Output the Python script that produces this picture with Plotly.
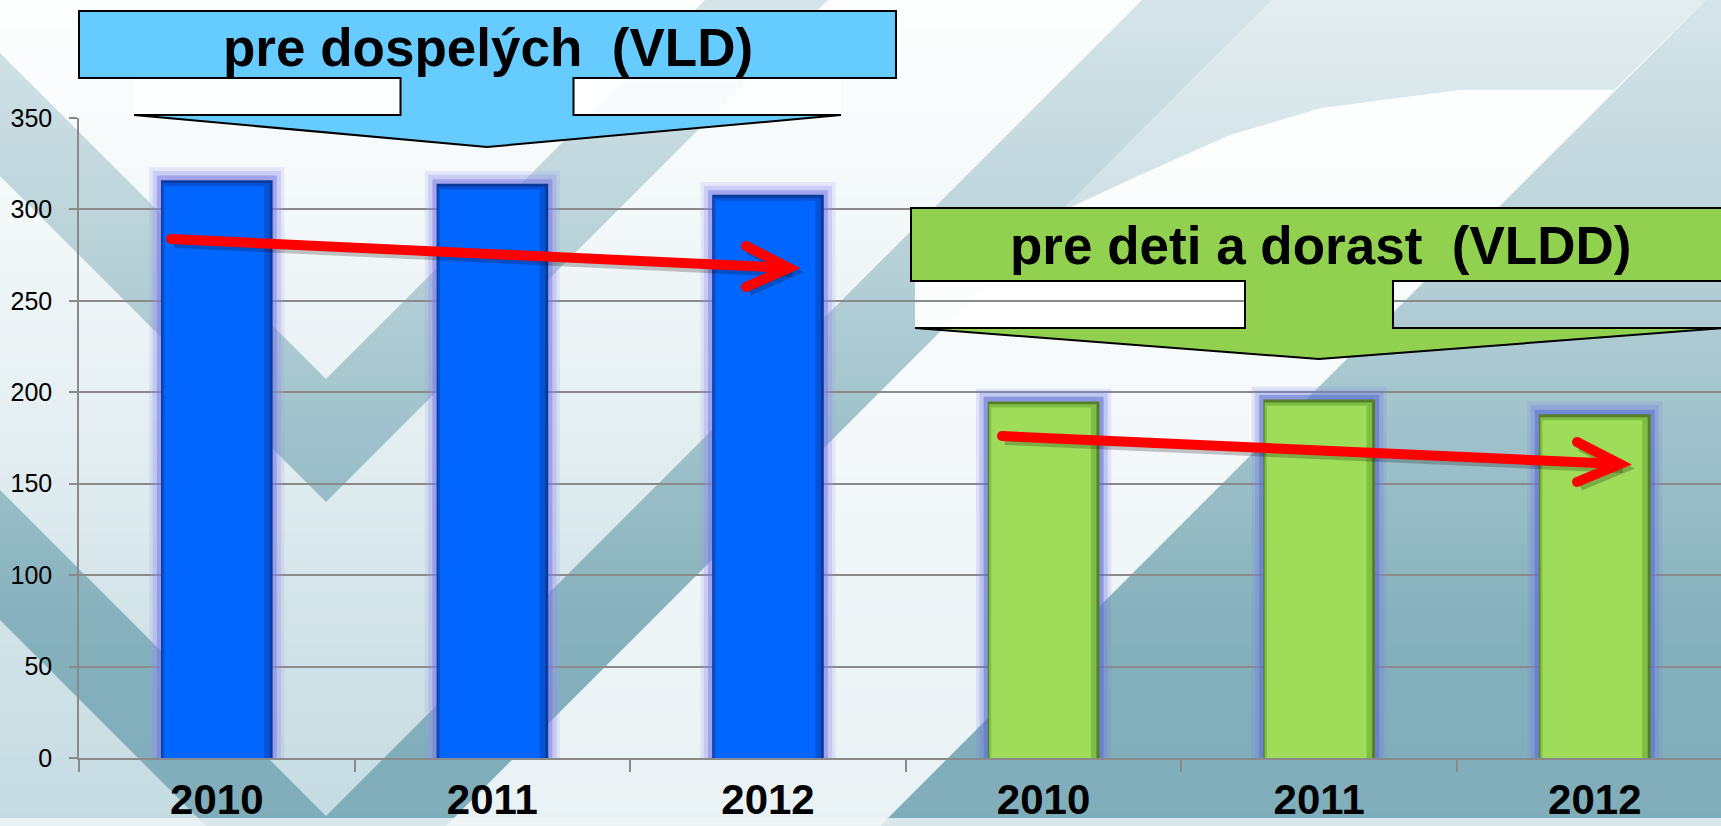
import plotly.graph_objects as go

# ---------------- data ----------------
years = ["2010", "2011", "2012"]
adults = [316, 314, 308]          # pre dospelých (VLD)
children = [195, 196, 188]        # pre deti a dorast (VLDD)
group_labels = ["pre dospelých\u00a0 (VLD)", "pre deti a dorast\u00a0 (VLDD)"]
y_ticks = [0, 50, 100, 150, 200, 250, 300, 350]

# ---------------- geometry helpers ----------------
W, H = 1721, 826
ML, MR, MT, MB = 79, 0, 118, 68
PW, PH = W - ML - MR, H - MT - MB


def X(px):
    return (px - ML) / PW


def Y(py):
    return (H - MB - py) / PH


def path(points, close=True):
    s = "M " + " L ".join(f"{X(x):.5f},{Y(y):.5f}" for x, y in points)
    return s + (" Z" if close else "")


shapes = []

# background: vertical gradient (opaque strips, integer pixel edges)
STEP = 14
top_c, bot_c = (248, 251, 252), (197, 219, 226)
y = 0
while y < H:
    t = (y + STEP / 2) / H
    c = tuple(round(top_c[k] + (bot_c[k] - top_c[k]) * t) for k in range(3))
    shapes.append(dict(type="rect", xref="paper", yref="paper", layer="below",
                       x0=X(0), x1=X(W), y0=Y(min(H, y + STEP + 1)), y1=Y(y),
                       fillcolor=f"rgb{c}", line=dict(width=0)))
    y += STEP

band = "rgba(86,146,162,0.62)"
# upper chevron band
shapes.append(dict(type="path", xref="paper", yref="paper", layer="below",
                   path=path([(0, 53), (326, 379), (705, 0), (828, 0), (326, 502), (0, 176)]),
                   fillcolor=band, line=dict(width=0)))
# lower chevron band
shapes.append(dict(type="path", xref="paper", yref="paper", layer="below",
                   path=path([(0, 490), (326, 816), (1142, 0), (1272, 0), (326, 946), (0, 620)]),
                   fillcolor=band, line=dict(width=0)))
# right teal region
shapes.append(dict(type="path", xref="paper", yref="paper", layer="below",
                   path=path([(1706, 0), (1760, 0), (1760, 900), (806, 900)]),
                   fillcolor=band, line=dict(width=0)))
# swoosh
curve = [(1614, 90), (1460, 90), (1322, 108), (1230, 135), (1138, 176), (1069, 208), (1045, 227)]
shapes.append(dict(type="path", xref="paper", yref="paper", layer="below",
                   path=path([(1272, 0), (1706, 0)] + curve),
                   fillcolor="rgba(86,146,162,0.40)", line=dict(width=0)))
shapes.append(dict(type="path", xref="paper", yref="paper", layer="below",
                   path=path(curve + [(446, 826), (880, 826)]),
                   fillcolor="rgba(255,255,255,0.62)", line=dict(width=0)))
# white fade from the top (non-overlapping strips on integer pixels)
FSTEP = 16
FADE_END = 640
y = 0
while y < FADE_END:
    a = 0.62 * (1 - (y + FSTEP / 2) / FADE_END)
    shapes.append(dict(type="rect", xref="paper", yref="paper", layer="below",
                       x0=X(0), x1=X(W), y0=Y(y + FSTEP), y1=Y(y),
                       fillcolor=f"rgba(255,255,255,{a:.3f})", line=dict(width=0)))
    y += FSTEP
# light strip at the bottom
shapes.append(dict(type="rect", xref="paper", yref="paper", layer="below",
                   x0=X(0), x1=X(W), y0=Y(826), y1=Y(818),
                   fillcolor="rgba(240,246,248,0.8)", line=dict(width=0)))

# white panels under callouts
for (x0, y0, x1, y1, op) in [(134, 78, 400, 115, 0.85), (574, 78, 841, 115, 0.85),
                            (915, 281, 1245, 328, 0.95)]:
    shapes.append(dict(type="rect", xref="paper", yref="paper", layer="below",
                       x0=X(x0), x1=X(x1), y0=Y(y1), y1=Y(y0),
                       fillcolor=f"rgba(255,255,255,{op})", line=dict(width=0)))


def callout(box_l, box_r, box_t, box_b, stem_l, stem_r, head_y, head_l, head_r, tip_y, color):
    cx = (stem_l + stem_r) / 2
    pts = [(box_l, box_t), (box_r, box_t), (box_r, box_b), (stem_r, box_b), (stem_r, head_y),
           (head_r, head_y), (cx, tip_y), (head_l, head_y), (stem_l, head_y), (stem_l, box_b),
           (box_l, box_b)]
    return dict(type="path", xref="paper", yref="paper", layer="above", path=path(pts),
                fillcolor=color, line=dict(color="black", width=2))


shapes.append(callout(79, 896, 11, 78, 400.5, 573.5, 115, 134, 841, 147, "#66ccff"))
shapes.append(callout(911, 1729, 208, 281, 1245, 1393, 328, 915, 1725, 359, "#92d050"))

# red trend arrows
arrows = [
    ((171, 239), (789, 268), (746, 246), (746, 287)),
    ((1002, 436), (1620, 464), (1577, 442), (1577, 482)),
]
for (s, t, w1, w2) in arrows:
    for dx, dy, col in [(3, 4, "rgba(0,0,0,0.22)"), (0, 0, "#ff0000")]:
        shapes.append(dict(type="path", xref="paper", yref="paper", layer="above",
                           path=path([(s[0] + dx, s[1] + dy), (t[0] + dx, t[1] + dy)], close=False),
                           fillcolor="rgba(0,0,0,0)", line=dict(color=col, width=10)))
        shapes.append(dict(type="path", xref="paper", yref="paper", layer="above",
                           path=path([(w1[0] + dx, w1[1] + dy), (t[0] + dx, t[1] + dy),
                                      (w2[0] + dx, w2[1] + dy)], close=False),
                           fillcolor="rgba(0,0,0,0)", line=dict(color=col, width=10)))
    for (cx, cy) in [s, w1, w2]:
        shapes.append(dict(type="circle", xref="paper", yref="paper", layer="above",
                           x0=X(cx - 5), x1=X(cx + 5), y0=Y(cy + 5), y1=Y(cy - 5),
                           fillcolor="#ff0000", line=dict(width=0)))

# ---------------- bars ----------------
pos_adults = list(range(len(years)))
pos_children = [len(years) + i for i in range(len(years))]

fig = go.Figure()


def add_bars(xs, vals, glow0, glow1, glow2, dark, mid, main):
    fig.add_bar(x=xs, y=[v + 7 for v in vals], width=0.49, marker=dict(color=glow0, line=dict(width=0)),
                hoverinfo="skip", showlegend=False)
    fig.add_bar(x=xs, y=[v + 5 for v in vals], width=0.465, marker=dict(color=glow1, line=dict(width=0)),
                hoverinfo="skip", showlegend=False)
    fig.add_bar(x=xs, y=[v + 2.5 for v in vals], width=0.435, marker=dict(color=glow2, line=dict(width=0)),
                hoverinfo="skip", showlegend=False)
    fig.add_bar(x=xs, y=vals, width=0.405, marker=dict(color=dark, line=dict(width=0)),
                hoverinfo="skip", showlegend=False)
    fig.add_bar(x=xs, y=[v - 1.6 for v in vals], width=0.39, offset=-0.198,
                marker=dict(color=mid, line=dict(width=0)), hoverinfo="skip", showlegend=False)
    fig.add_bar(x=xs, y=[v - 3.3 for v in vals], width=0.362, offset=-0.19,
                marker=dict(color=main, line=dict(width=0)), showlegend=False)


add_bars(pos_adults, adults, "rgba(150,150,240,0.18)", "rgba(140,140,240,0.28)", "rgba(115,115,225,0.45)",
         "#0a3a9c", "#0552d6", "#0066ff")
add_bars(pos_children, children, "rgba(120,130,230,0.18)", "rgba(110,125,225,0.28)", "rgba(85,105,205,0.5)",
         "#557f2a", "#7fbd45", "#9edc59")

annotations = [
    dict(x=X(487.5), y=Y(47), xref="paper", yref="paper", xanchor="center", yanchor="middle",
         text=f"<b>{group_labels[0]}</b>", showarrow=False,
         font=dict(family="Liberation Sans, Arial", size=53, color="black")),
    dict(x=X(1320), y=Y(245), xref="paper", yref="paper", xanchor="center", yanchor="middle",
         text=f"<b>{group_labels[1]}</b>", showarrow=False,
         font=dict(family="Liberation Sans, Arial", size=53, color="black")),
]

grid_c = "#8a8a8a"
fig.update_layout(
    width=W, height=H, barmode="overlay",
    margin=dict(l=ML, r=MR, t=MT, b=MB, pad=0, autoexpand=False),
    paper_bgcolor="#eef4f6", plot_bgcolor="rgba(0,0,0,0)",
    shapes=shapes, annotations=annotations, showlegend=False,
    font=dict(family="Liberation Sans, Arial", color="black"),
    xaxis=dict(range=[-0.5, 5.458], tickmode="array", tickvals=pos_adults + pos_children,
               ticktext=years + years, ticks="", showgrid=False, zeroline=False, automargin=False,
               showline=True, linecolor=grid_c, linewidth=1.5,
               tickfont=dict(family="Liberation Sans, Arial", size=42, color="black", weight="bold"),
               ticklabelstandoff=4,
               minor=dict(tickmode="array", tickvals=[p - 0.5 for p in pos_adults + pos_children],
                          ticks="outside", ticklen=12, tickwidth=1.5, tickcolor=grid_c, showgrid=False)),
    yaxis=dict(range=[0, 350], tickmode="array", tickvals=y_ticks, showgrid=True, gridcolor=grid_c,
               gridwidth=1.5, zeroline=False, showline=True, linecolor=grid_c, linewidth=1.5,
               ticks="outside", ticklen=8, tickwidth=1.5, tickcolor=grid_c, automargin=False,
               tickfont=dict(family="Liberation Sans, Arial", size=25, color="black"),
               ticklabelstandoff=12),
)

fig.write_html("out.html", config={"displayModeBar": False},
               post_script="document.body.style.margin='0';document.body.style.overflow='hidden';")
